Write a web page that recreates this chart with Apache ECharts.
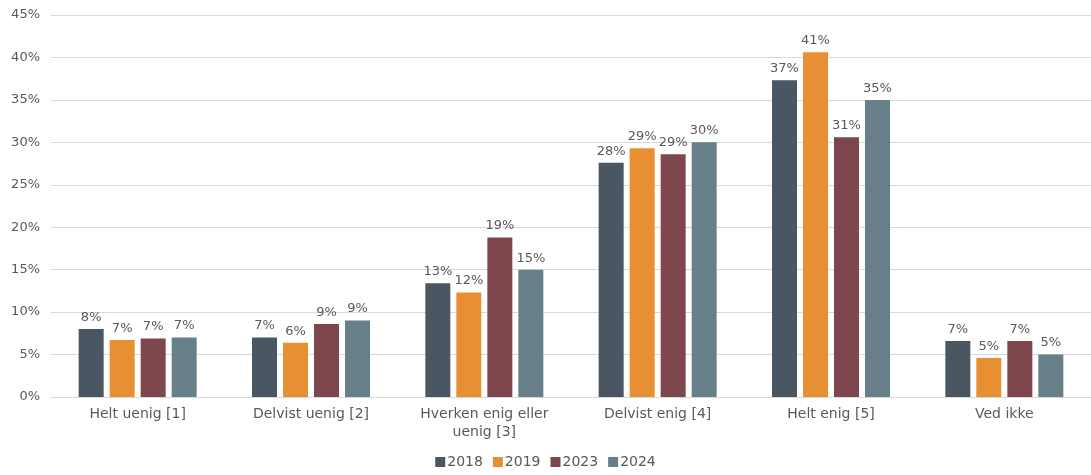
<!DOCTYPE html>
<html><head><meta charset="utf-8">
<script src="https://cdn.jsdelivr.net/npm/echarts@6/dist/echarts.min.js"></script>
<style>html,body{margin:0;padding:0;background:#fff}#c{width:1091px;height:475px}</style>
</head><body><div id="c"></div>
<script>
const categories = ["Helt uenig [1]", "Delvist uenig [2]", "Hverken enig eller\nuenig [3]", "Delvist enig [4]", "Helt enig [5]", "Ved ikke"];
const seriesNames = ["2018", "2019", "2023", "2024"];
const v2018 = [8.0, 7.0, 13.4, 27.6, 37.3, 6.6];
const v2019 = [6.7, 6.4, 12.3, 29.3, 40.6, 4.6];
const v2023 = [6.9, 8.6, 18.8, 28.6, 30.6, 6.6];
const v2024 = [7.0, 9.0, 15.0, 30.0, 35.0, 5.0];
const colors = ["#4a5661", "#e88f33", "#7e474d", "#677f88"];
const font = "DejaVu Sans";
const txt = "#595959";
const values = [v2018, v2019, v2023, v2024];
const chart = echarts.init(document.getElementById('c'));
chart.setOption({
  animation: false,
  textStyle: {fontFamily: font},
  grid: {left: 51, width: 1045, top: 15, bottom: 78, containLabel: false},
  legend: {
    bottom: 1, left: 'center', itemWidth: 10, itemHeight: 10, itemGap: 10, icon: 'rect',
    textStyle: {fontFamily: font, fontSize: 14, color: txt, padding: [0,0,0,-3]},
    data: seriesNames
  },
  xAxis: {
    type: 'category', data: categories,
    axisLine: {lineStyle: {color: '#d9d9d9'}}, axisTick: {show: false},
    axisLabel: {fontFamily: font, fontSize: 14, color: txt, margin: 8, interval: 0, lineHeight: 18}
  },
  yAxis: {
    type: 'value', min: 0, max: 45, interval: 5,
    axisLabel: {formatter: '{value}%', fontFamily: font, fontSize: 13, color: txt, margin: 11},
    splitLine: {lineStyle: {color: '#d9d9d9'}}, axisLine: {show: false}, axisTick: {show: false}
  },
  series: seriesNames.map((n, i) => ({
    name: n, type: 'bar', data: values[i], barWidth: 25, barGap: '24%',
    itemStyle: {color: colors[i]},
    label: {show: true, position: 'top', distance: 5, color: txt, fontFamily: font, fontSize: 13,
      formatter: p => Math.round(p.value) + '%'}
  }))
});
</script></body></html>
